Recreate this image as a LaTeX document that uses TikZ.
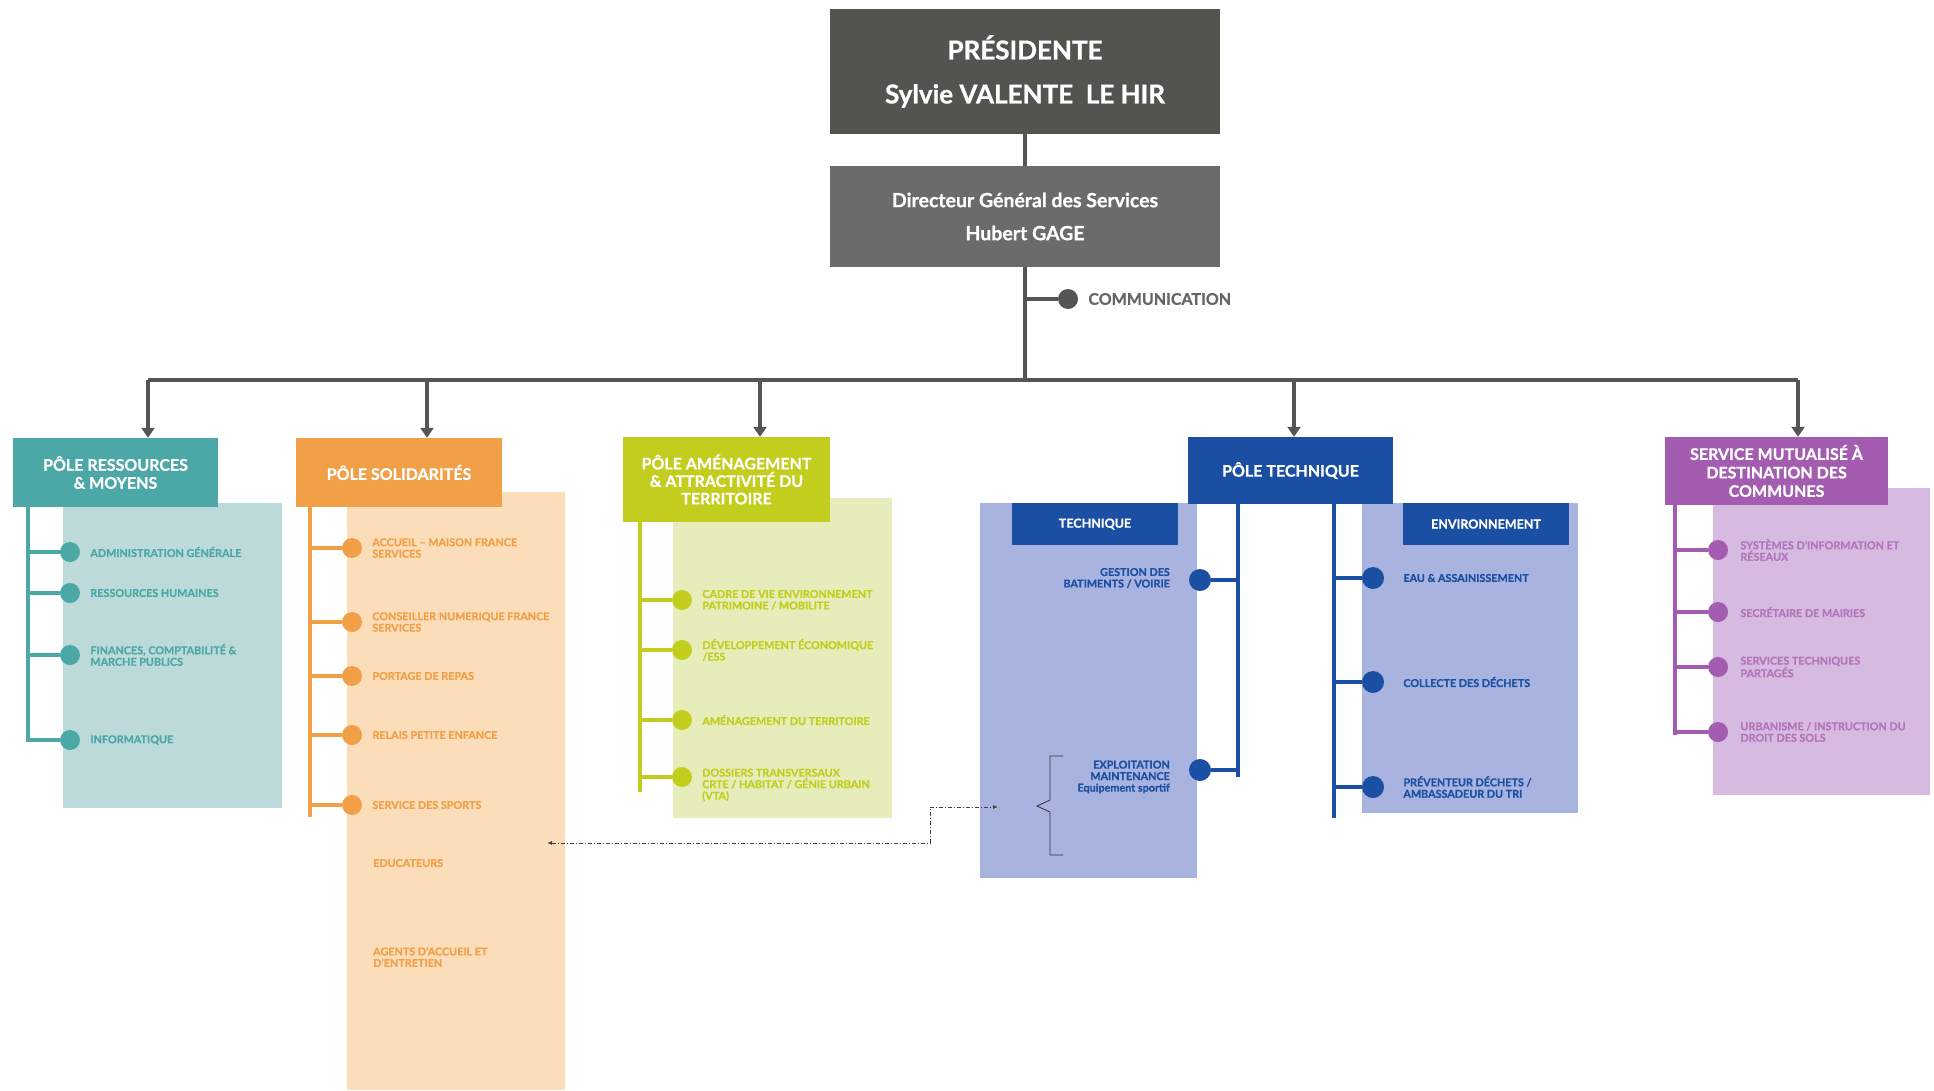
\documentclass[tikz,border=0pt]{standalone}
\usepackage{fontspec}
\setmainfont{Lato}[BoldFeatures={FakeBold=0.8}]
\usetikzlibrary{arrows.meta,positioning,calc}
\definecolor{cgray}{HTML}{54544F}
\definecolor{cdgs}{HTML}{6B6B6B}
\definecolor{cline}{HTML}{555555}
\definecolor{ccom}{HTML}{666666}
\definecolor{teal1}{HTML}{4BA8A6}
\definecolor{teal2}{HTML}{BCDADA}
\definecolor{or1}{HTML}{F2A048}
\definecolor{or2}{HTML}{FCDDB9}
\definecolor{li1}{HTML}{C3CD1E}
\definecolor{li2}{HTML}{E6EDBA}
\definecolor{bl1}{HTML}{1B4FA3}
\definecolor{bl2}{HTML}{A8B3DF}
\definecolor{pu1}{HTML}{A35CB0}
\definecolor{pu2}{HTML}{D7BAE0}
\begin{document}
\begin{tikzpicture}[x=1pt,y=-1pt,
  box/.style={rectangle, inner sep=0pt, align=center, text=white, font=\bfseries\fontsize{16}{18}\selectfont},
  item/.style={inner sep=0pt, align=left, anchor=west, font=\bfseries\fontsize{10.8}{11.5}\selectfont},
  itemr/.style={inner sep=0pt, align=right, anchor=east, font=\bfseries\fontsize{10.8}{11.5}\selectfont},
  bullet/.style={circle, inner sep=0pt, minimum size=20pt},
  mainline/.style={line width=3.5pt, draw=cline},
  arr/.style={mainline, -{Triangle[length=10pt,width=13pt]}},
  spine/.style={line width=4pt, draw=#1},
  hdr/.style={rectangle, inner sep=0pt, fill=bl1, text=white, font=\bfseries\fontsize{12.5}{14}\selectfont},
  link/.style={draw=black!75, line width=0.9pt, dash pattern=on 4pt off 2pt on 1pt off 2pt, {Latex[length=5pt,width=4pt]}-{Latex[length=5pt,width=4pt]}}
]
\useasboundingbox (0,0) rectangle (1934,1090);

% ---------- top ----------
\node[box, fill=cgray, minimum width=390pt, minimum height=125pt, font=\bfseries\fontsize{26}{44}\selectfont] (pres) at (1025,71.5) {PRÉSIDENTE\\Sylvie VALENTE\ \ LE HIR};
\node[box, fill=cdgs, minimum width=390pt, minimum height=101pt, font=\bfseries\fontsize{19.5}{33}\selectfont] (dgs) at (1025,216.5) {Directeur Général des Services\\Hubert GAGE};
\draw[mainline] (pres) -- (dgs);
\coordinate (busc) at (1025,380);
\draw[mainline] (dgs) -- (busc);
\node[bullet, fill=cline] (com) at (1068,299) {};
\draw[mainline] (com) -- (com -| busc);
\node[inner sep=0pt, anchor=west, text=ccom, font=\bfseries\fontsize{16}{18}\selectfont, right=10pt of com] (comt) {COMMUNICATION};

\coordinate (a1) at (148,380);
\coordinate (a2) at (427,380);
\coordinate (a3) at (760,380);
\coordinate (a4) at (1294,380);
\coordinate (a5) at (1798,380);
\draw[mainline] (a1) -- (a5);

% ---------- panels ----------
\fill[teal2] (63,503) rectangle (282,808);
\fill[or2] (347,492) rectangle (565,1090);
\fill[li2] (673,498) rectangle (892,818);
\fill[bl2] (980,503) rectangle (1197,878);
\fill[bl2] (1362,503) rectangle (1578,813);
\fill[pu2] (1713,488) rectangle (1930,795);

% ---------- pole boxes ----------
\node[box, fill=teal1, minimum width=205pt, minimum height=69pt] (pr) at (115.5,472.5) {PÔLE RESSOURCES\\\& MOYENS};
\node[box, fill=or1, minimum width=206pt, minimum height=69pt] (ps) at (399,472.5) {PÔLE SOLIDARITÉS};
\node[box, fill=li1, minimum width=207pt, minimum height=85pt, font=\bfseries\fontsize{16}{17.5}\selectfont] (pa) at (726.5,479.5) {PÔLE AMÉNAGEMENT\\\& ATTRACTIVITÉ DU\\TERRITOIRE};
\node[box, fill=bl1, minimum width=205pt, minimum height=67pt] (pt) at (1290.5,470.5) {PÔLE TECHNIQUE};
\node[box, fill=pu1, minimum width=223pt, minimum height=68pt, font=\bfseries\fontsize{16}{18.5}\selectfont] (sm) at (1776.5,471) {SERVICE MUTUALISÉ À\\DESTINATION DES\\COMMUNES};

\draw[arr] (a1) -- (a1 |- pr.north);
\draw[arr] (a2) -- (a2 |- ps.north);
\draw[arr] (a3) -- (a3 |- pa.north);
\draw[arr] (a4) -- (a4 |- pt.north);
\draw[arr] (a5) -- (a5 |- sm.north);

% ---------- Ressources ----------
\coordinate (rs0) at (28,507); \coordinate (rs1) at (28,742);
\draw[spine=teal1] (rs0) -- (rs1);
\foreach \n/\y/\t in {r1/552/{ADMINISTRATION GÉNÉRALE}, r2/593/{RESSOURCES HUMAINES}, r3/655/{FINANCES, COMPTABILITÉ \&\\MARCHE PUBLICS}, r4/740/{INFORMATIQUE}} {
  \node[bullet, fill=teal1] (\n) at (70,\y) {};
  \draw[spine=teal1] (\n) -- (\n -| rs0);
  \node[item, text=teal1, right=10pt of \n] (t\n) {\t};
}

% ---------- Solidarites ----------
\coordinate (ss0) at (310,507); \coordinate (ss1) at (310,817);
\draw[spine=or1] (ss0) -- (ss1);
\foreach \n/\y/\t in {s1/548/{ACCUEIL -- MAISON FRANCE\\SERVICES}, s2/622/{CONSEILLER NUMERIQUE FRANCE\\SERVICES}, s3/676/{PORTAGE DE REPAS}, s4/735/{RELAIS PETITE ENFANCE}, s5/805/{SERVICE DES SPORTS}} {
  \node[bullet, fill=or1] (\n) at (352,\y) {};
  \draw[spine=or1] (\n) -- (\n -| ss0);
  \node[item, text=or1, right=10pt of \n] (t\n) {\t};
}
\node[item, text=or1] (s6) at (373,863) {EDUCATEURS};
\node[item, text=or1] (s7) at (373,957) {AGENTS D'ACCUEIL ET\\D'ENTRETIEN};

% ---------- Amenagement ----------
\coordinate (as0) at (640,522); \coordinate (as1) at (640,792);
\draw[spine=li1] (as0) -- (as1);
\foreach \n/\y/\t in {m1/600/{CADRE DE VIE ENVIRONNEMENT\\PATRIMOINE / MOBILITE}, m2/650/{DÉVELOPPEMENT ÉCONOMIQUE\\/ESS}, m3/720/{AMÉNAGEMENT DU TERRITOIRE}} {
  \node[bullet, fill=li1] (\n) at (682,\y) {};
  \draw[spine=li1] (\n) -- (\n -| as0);
  \node[item, text=li1, right=10pt of \n] (t\n) {\t};
}
\node[bullet, fill=li1] (m4) at (682,777) {};
\draw[spine=li1] (m4) -- (m4 -| as0);
\node[item, text=li1] (tm4) at (702,785) {DOSSIERS TRANSVERSAUX\\CRTE / HABITAT / GÉNIE URBAIN\\(VTA)};

% ---------- Technique ----------
\node[hdr, minimum width=166pt, minimum height=42pt] (ht) at (1095,524) {TECHNIQUE};
\node[hdr, minimum width=166pt, minimum height=42pt] (he) at (1486,524) {ENVIRONNEMENT};
\coordinate (ts0) at (1238,504); \coordinate (ts1) at (1238,777);
\draw[spine=bl1, line width=4.5pt] (ts0) -- (ts1);
\node[bullet, fill=bl1, minimum size=22pt] (t1) at (1200,580) {};
\node[bullet, fill=bl1, minimum size=22pt] (t2) at (1200,770) {};
\draw[spine=bl1] (t1) -- (t1 -| ts0);
\draw[spine=bl1] (t2) -- (t2 -| ts0);
\node[itemr, text=bl1] (tt1) at (1170,578) {GESTION DES\\BATIMENTS / VOIRIE};
\node[itemr, text=bl1] (tt2) at (1170,777) {EXPLOITATION\\MAINTENANCE\\Equipement sportif};
\draw[black!80, line width=0.8pt] (1063,756) -- (1050,756) -- (1050,800) -- (1037,806) -- (1050,812) -- (1050,855) -- (1063,855);

\coordinate (es0) at (1334,504); \coordinate (es1) at (1334,818);
\draw[spine=bl1, line width=4.5pt] (es0) -- (es1);
\foreach \n/\y/\t in {e1/578/{EAU \& ASSAINISSEMENT}, e2/682/{COLLECTE DES DÉCHETS}, e3/787/{PRÉVENTEUR DÉCHETS /\\AMBASSADEUR DU TRI}} {
  \node[bullet, fill=bl1, minimum size=22pt] (\n) at (1373,\y) {};
  \draw[spine=bl1] (\n) -- (\n -| es0);
  \node[item, text=bl1, right=19pt of \n] (t\n) {\t};
}

% ---------- Mutualise ----------
\coordinate (us0) at (1675,505); \coordinate (us1) at (1675,735);
\draw[spine=pu1] (us0) -- (us1);
\foreach \n/\y/\t in {u1/550/{SYSTÈMES D'INFORMATION ET\\RÉSEAUX}, u2/612/{SECRÉTAIRE DE MAIRIES}, u3/667/{SERVICES TECHNIQUES\\PARTAGÉS}, u4/732/{URBANISME / INSTRUCTION DU\\DROIT DES SOLS}} {
  \node[bullet, fill=pu1] (\n) at (1718,\y) {};
  \draw[spine=pu1] (\n) -- (\n -| us0);
  \node[item, text=pu1!85, right=12pt of \n] (t\n) {\t};
}

% ---------- dotted link ----------
\coordinate (dl) at (547,843);
\coordinate (dm) at (930,843);
\coordinate (dr) at (998,807);
\draw[link] (dl) -- (dm) |- (dr);
\end{tikzpicture}
\end{document}
